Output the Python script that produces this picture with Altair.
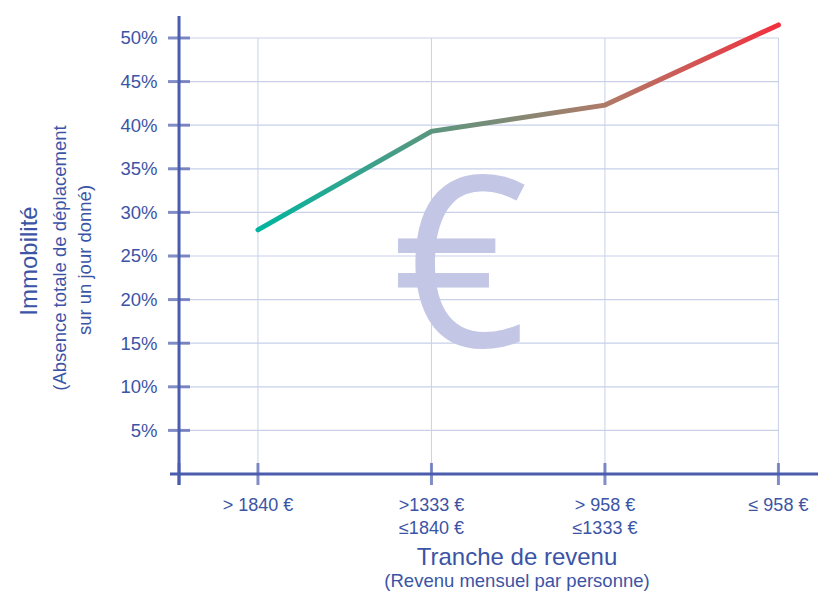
import altair as alt
import pandas as pd

# ---- data ----
categories = ["> 1840 €", ">1333 €\n≤1840 €", "> 958 €\n≤1333 €", "≤ 958 €"]
immobilite = [28.0, 39.3, 42.3, 51.5]
y_ticks = [5, 10, 15, 20, 25, 30, 35, 40, 45, 50]

# ---- layout constants ----
X_DOMAIN = [-0.507, 3.228]
Y_DOMAIN = [-1.26, 52.52]
AXIS_X = -0.455
LABEL_Y = -2.65
W, H = 648, 469

TXT = "#3b54a5"
AXC = "#4b5cae"
GRID = "#c9d1ea"
FONT = "Liberation Sans"

xs = alt.Scale(domain=X_DOMAIN, nice=False, zero=False)
ys = alt.Scale(domain=Y_DOMAIN, nice=False, zero=False)

def X(f):
    return alt.X(f, type="quantitative", scale=xs, axis=None)

def Y(f):
    return alt.Y(f, type="quantitative", scale=ys,
                 axis=alt.Axis(values=y_ticks, labelExpr="datum.value + '%'",
                               domain=False, ticks=False, tickSize=0, grid=False,
                               labelFontSize=18.5, labelColor=TXT, labelFont=FONT,
                               labelPadding=13, title=None))

idx = list(range(len(categories)))
df_line = pd.DataFrame({"i": idx, "v": immobilite, "cat": categories})
df_h = pd.DataFrame({"v": y_ticks, "x0": AXIS_X, "x1": idx[-1]})
df_v = pd.DataFrame({"i": idx, "y0": 0, "y1": y_ticks[-1]})
df_xt = pd.DataFrame({"i": [AXIS_X] + idx, "y": 0})
df_yt = pd.DataFrame({"v": y_ticks, "x": AXIS_X})
df_lab = pd.DataFrame({"i": idx, "cat": categories, "y": LABEL_Y})
df_euro = pd.DataFrame({"i": [1.165], "v": [22.7], "t": ["€"]})

hgrid = alt.Chart(df_h).mark_rule(color=GRID, strokeWidth=1.2).encode(
    x=X("x0"), x2="x1", y=Y("v"))
vgrid = alt.Chart(df_v).mark_rule(color=GRID, strokeWidth=1).encode(
    x=X("i"), y=Y("y0"), y2="y1")

euro = alt.Chart(df_euro).mark_text(font="Open Sans", fontSize=238, color="#c3c6e5",
                                    baseline="middle", align="center").encode(
    x=X("i"), y=Y("v"), text="t")

grad = alt.LinearGradient(gradient="linear", x1=0, x2=1, y1=0, y2=0,
                          stops=[alt.GradientStop(color="#00b5a0", offset=0),
                                 alt.GradientStop(color="#5a967f", offset=0.33),
                                 alt.GradientStop(color="#b07a68", offset=0.67),
                                 alt.GradientStop(color="#f2303e", offset=1)])
line = alt.Chart(df_line).mark_line(stroke=grad, strokeWidth=5, strokeCap="round").encode(
    x=X("i"), y=Y("v"))

yaxis = alt.Chart(df_yt.head(1)).mark_rule(color=AXC, strokeWidth=3).encode(
    x=X("x"), y=alt.value(0), y2=alt.value(H))
xaxis = alt.Chart(df_xt.head(1)).mark_rule(color=AXC, strokeWidth=3).encode(
    y=Y("y"), x=alt.value(0), x2=alt.value(W))

yticks = alt.Chart(df_yt).mark_tick(orient="horizontal", size=22, thickness=3, color=AXC).encode(
    x=X("x"), y=Y("v"))
xticks = alt.Chart(df_xt).mark_tick(orient="vertical", size=22, thickness=3, color=AXC).encode(
    x=X("i"), y=Y("y"))

xlabels = alt.Chart(df_lab).mark_text(font=FONT, fontSize=18, color=TXT, baseline="top",
                                      align="center", lineBreak="\n", lineHeight=23).encode(
    x=X("i"), y=Y("y"), text="cat")

def ann(text, x, y, size, angle=0):
    return alt.Chart(pd.DataFrame({"t": [text]})).mark_text(
        font=FONT, fontSize=size, color=TXT, angle=angle, align="center", baseline="middle"
    ).encode(x=alt.value(x), y=alt.value(y), text="t")

titles = [
    ann("Tranche de revenu", 347, 542, 24),
    ann("(Revenu mensuel par personne)", 347, 565, 18.5),
    ann("Immobilité", -140, 245, 24, 270),
    ann("(Absence totale de déplacement", -110, 242, 18.5, 270),
    ann("sur un jour donné)", -85, 244, 18.5, 270),
]

chart = alt.layer(hgrid, vgrid, euro, line, yaxis, xaxis, yticks, xticks, xlabels, *titles).properties(
    width=W, height=H,
    autosize=alt.AutoSizeParams(type="none"),
    padding={"left": 162, "top": 8, "right": 10, "bottom": 110},
).configure_view(stroke=None)

chart.save("out.html", embed_options={"renderer": "svg", "actions": False})
